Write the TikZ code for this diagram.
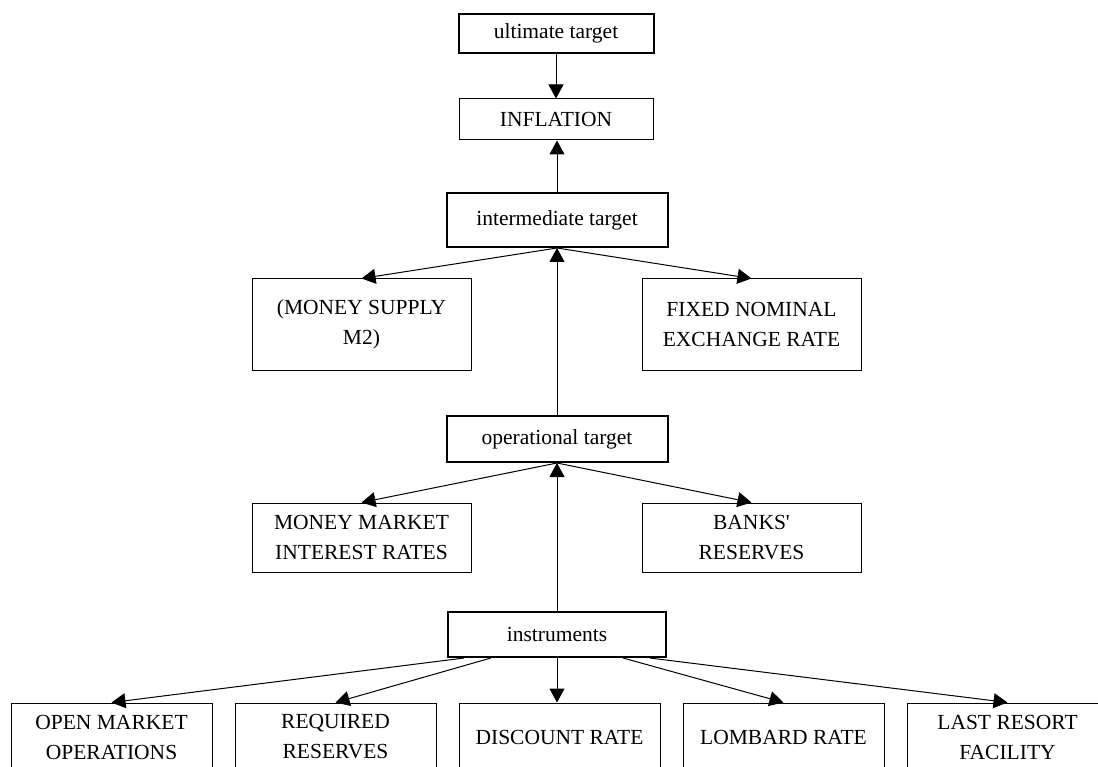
\documentclass[tikz,border=0pt]{standalone}
\usepackage{fontspec}
\setmainfont{Liberation Serif}[Ligatures=TeXOff]
\usetikzlibrary{arrows.meta,calc}
\begin{document}
\begin{tikzpicture}[x=1pt,y=-1pt,
  box/.style={draw, line width=1pt, inner sep=0pt, align=center,
    font=\fontsize{21.5}{30}\selectfont},
  tbox/.style={box, line width=2pt},
  wbox/.style={box, minimum width=219pt, minimum height=#1},
  bbox/.style={box, minimum width=201pt, minimum height=68pt},
  arr/.style={line width=1pt, -{Triangle[length=14pt,width=15pt]}}]
\clip (0,0) rectangle (1098,767);
\fill[white] (0,0) rectangle (1098,767);
% central column
\node[tbox, minimum width=195pt, minimum height=39pt] (ult) at (556,33.5) {ultimate target};
\node[box, minimum width=194pt, minimum height=41pt] (infl) at (556,119.5) {INFLATION};
\node[tbox, minimum width=221pt, minimum height=54pt] (inter) at (557,220) {intermediate target};
\node[tbox, minimum width=221pt, minimum height=46pt] (oper) at (557,439) {operational target};
\node[tbox, minimum width=218pt, minimum height=45pt] (inst) at (557,634.5) {instruments};
% side boxes
\node[wbox=91pt] (ms) at (361.5,324.5) {(MONEY SUPPLY\\M2)};
\node[wbox=91pt] (fx) at (751.5,324.5) {FIXED NOMINAL\\EXCHANGE RATE};
\node[wbox=69pt] (mm) at (361.5,537.5) {MONEY MARKET\\INTEREST RATES};
\node[wbox=69pt] (br) at (751.5,537.5) {BANKS'\\RESERVES};
% bottom row
\node[bbox] (omo) at (111.5,737) {OPEN MARKET\\OPERATIONS};
\node[bbox] (rr) at (335.5,737) {REQUIRED\\RESERVES};
\node[bbox] (dr) at (559.5,737) {DISCOUNT RATE};
\node[bbox] (lr) at (783.5,737) {LOMBARD RATE};
\node[bbox] (lrf) at (1007.5,737) {LAST RESORT\\FACILITY};
% start points on instruments
\coordinate (s1) at ($(inst.south west)!0.078!(inst.south east)$);
\coordinate (s2) at ($(inst.south west)!0.2!(inst.south east)$);
\coordinate (s4) at ($(inst.south east)!0.2!(inst.south west)$);
\coordinate (s5) at ($(inst.south east)!0.078!(inst.south west)$);
% connectors
\draw[arr] (ult.south) -- (infl.north);
\draw[arr] (inter.north) -- (inter.north |- infl.south);
\draw[arr] (inter.south) -- (ms.north);
\draw[arr] (inter.south) -- (fx.north);
\draw[arr] (oper.north) -- (inter.south);
\draw[arr] (oper.south) -- (mm.north);
\draw[arr] (oper.south) -- (br.north);
\draw[arr] (inst.north) -- (oper.south);
\draw[arr] (s1) -- (omo.north);
\draw[arr] (s2) -- (rr.north);
\draw[arr] (inst.south) -- (inst.south |- dr.north);
\draw[arr] (s4) -- (lr.north);
\draw[arr] (s5) -- (lrf.north);
\end{tikzpicture}
\end{document}
